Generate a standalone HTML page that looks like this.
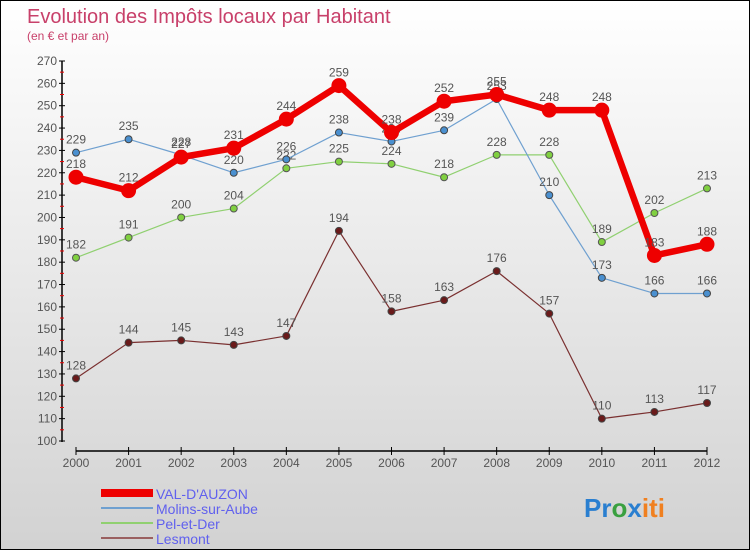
<!DOCTYPE html>
<html><head><meta charset="utf-8"><style>
body{margin:0;width:750px;height:550px;overflow:hidden;font-family:"Liberation Sans",sans-serif}
#wrap{position:relative;width:748px;height:548px;border:1px solid #000;background:linear-gradient(#fff,#d2d2d2)}
</style></head><body>
<div id="wrap">
<svg id="svg" width="748" height="548">
<text x="26" y="22" font-size="20" fill="#c8406a">Evolution des Impôts locaux par Habitant</text>
<text x="26" y="39" font-size="12" fill="#c8406a">(en € et par an)</text>
<g id="axes"></g><g id="series"></g>
<g>
<rect x="100" y="488" width="52" height="8" fill="#e00"/>
<text x="155" y="498" font-size="14" fill="#6060ee">VAL-D'AUZON</text>
<line x1="100" y1="507" x2="152" y2="507" stroke="#6fa0d0" stroke-width="2"/>
<text x="155" y="513" font-size="14" fill="#6060ee">Molins-sur-Aube</text>
<line x1="100" y1="522" x2="152" y2="522" stroke="#90d070" stroke-width="2"/>
<text x="155" y="528" font-size="14" fill="#6060ee">Pel-et-Der</text>
<line x1="100" y1="537" x2="152" y2="537" stroke="#9a6060" stroke-width="2"/>
<text x="155" y="543" font-size="14" fill="#6060ee">Lesmont</text>
</g>
<text x="583" y="516" font-size="26" font-weight="bold"><tspan fill="#2a7fd0">Pr</tspan><tspan fill="#3aa040">o</tspan><tspan fill="#2a7fd0">x</tspan><tspan fill="#f08020">iti</tspan></text>
</svg></div>
<script>
const years=[2000,2001,2002,2003,2004,2005,2006,2007,2008,2009,2010,2011,2012];
const valDauzon=[218,212,227,231,244,259,238,252,255,248,248,183,188];
const molins=[229,235,228,220,226,238,234,239,253,210,173,166,166];
const pel=[182,191,200,204,222,225,224,218,228,228,189,202,213];
const lesmont=[128,144,145,143,147,194,158,163,176,157,110,113,117];
const yTicks=[100,110,120,130,140,150,160,170,180,190,200,210,220,230,240,250,260,270];
const NS="http://www.w3.org/2000/svg";
const xS=i=>75+i*(706-75)/(years.length-1);
const yS=v=>440-(v-100)*(380/170);
function mk(t,a,p,txt){const e=document.createElementNS(NS,t);for(const k in a)e.setAttribute(k,a[k]);if(txt!==undefined)e.textContent=txt;p.appendChild(e);return e;}
const ax=document.getElementById('axes');
let e=mk('line',{x1:61,y1:60,x2:61,y2:441,stroke:'#000','stroke-width':1.5},ax);

e=mk('line',{x1:75,y1:450,x2:706,y2:450,stroke:'#000','stroke-width':1.5},ax);

yTicks.forEach(v=>{const y=yS(v);
mk('line',{x1:58,y1:y,x2:64,y2:y,stroke:'#000'},ax);
if(v<270)mk('line',{x1:59,y1:y-11.2,x2:63,y2:y-11.2,stroke:'#e00'},ax);
const t=mk('text',{x:56,y:y+4,'font-size':12,fill:'#555','text-anchor':'end'},ax,v);
});
years.forEach((yr,i)=>{const x=xS(i);
mk('line',{x1:x,y1:446,x2:x,y2:454,stroke:'#000'},ax);
const t=mk('text',{x:x,y:466,'font-size':12,fill:'#555','text-anchor':'middle'},ax,yr);
});
const sg=document.getElementById('series');
function series(data,color,w,r,name,dot,stroke){
const g=mk('g',{},sg);

const l=mk('polyline',{points:data.map((v,i)=>xS(i)+','+yS(v)).join(' '),fill:'none',stroke:color,'stroke-width':w,'stroke-linejoin':'round'},g);

data.forEach((v,i)=>{const c=mk('circle',{cx:xS(i),cy:yS(v),r:r,fill:dot,stroke:stroke,'stroke-width':1},g);

const t=mk('text',{x:xS(i),y:yS(v)-9,'font-size':12,fill:'#555','text-anchor':'middle'},g,v);
});}
series(lesmont,'#7a3030',1.2,3.5,'lesmont','#6a1a1a','#444');
series(pel,'#90d070',1.2,3.5,'pel-et-der','#80d040','#555');
series(molins,'#6fa0d0',1.2,3.5,'molins-sur-aube','#4a90d0','#444');
series(valDauzon,'#ee0000',6.5,7,'val-dauzon','#ee0000','#e00');
</script>
</body></html>
